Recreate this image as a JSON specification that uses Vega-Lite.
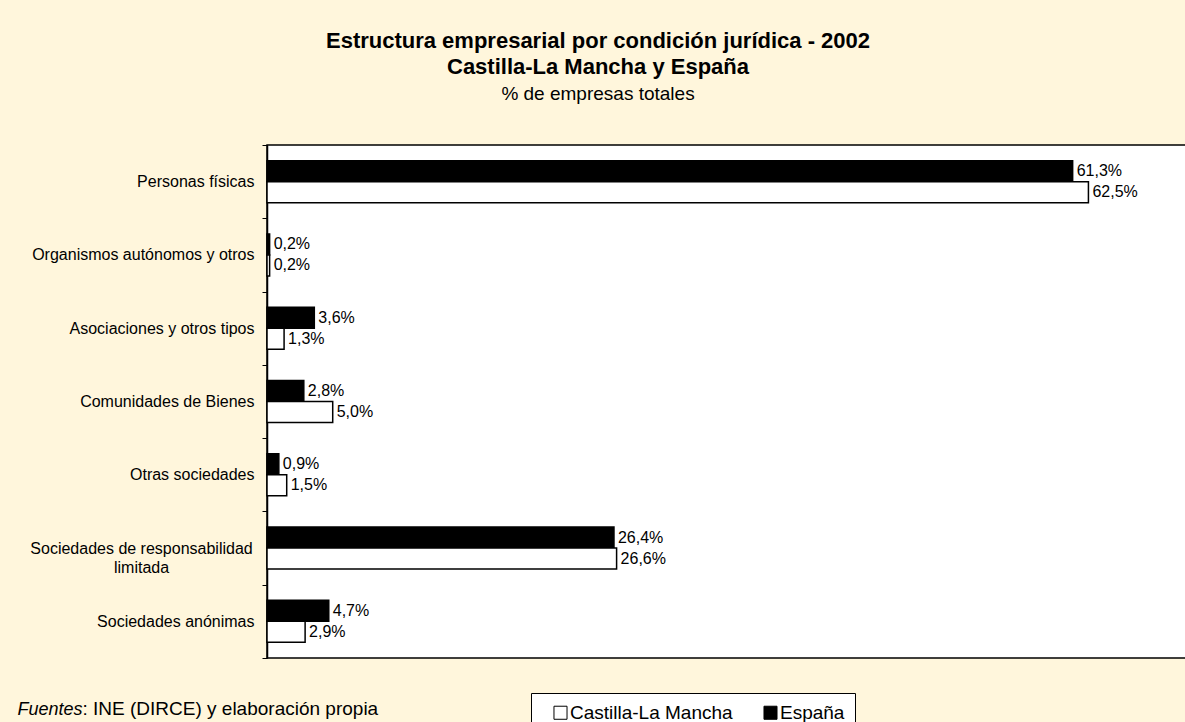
{
  "$schema": "https://vega.github.io/schema/vega-lite/v6.json",
  "width": 920,
  "height": 513,
  "autosize": {"type": "none"},
  "padding": {"left": 267, "top": 145, "right": 0, "bottom": 64},
  "background": "#FFF6DC",
  "title": {
    "text": ["Estructura empresarial por condición jurídica - 2002", "Castilla-La Mancha y España"],
    "subtitle": "% de empresas totales",
    "anchor": "middle",
    "frame": "group",
    "dx": -129,
    "offset": 32,
    "font": "Liberation Sans",
    "fontSize": 22,
    "fontWeight": "bold",
    "color": "black",
    "lineHeight": 26,
    "subtitleFont": "Liberation Sans",
    "subtitleFontSize": 19,
    "subtitleColor": "black",
    "subtitlePadding": 6
  },
  "data": {
    "values": [
      {"categoria": "Personas físicas", "serie": "España", "valor": 0.613},
      {"categoria": "Personas físicas", "serie": "Castilla-La Mancha", "valor": 0.625},
      {"categoria": "Organismos autónomos y otros", "serie": "España", "valor": 0.002},
      {"categoria": "Organismos autónomos y otros", "serie": "Castilla-La Mancha", "valor": 0.002},
      {"categoria": "Asociaciones y otros tipos", "serie": "España", "valor": 0.036},
      {"categoria": "Asociaciones y otros tipos", "serie": "Castilla-La Mancha", "valor": 0.013},
      {"categoria": "Comunidades de Bienes", "serie": "España", "valor": 0.028},
      {"categoria": "Comunidades de Bienes", "serie": "Castilla-La Mancha", "valor": 0.05},
      {"categoria": "Otras sociedades", "serie": "España", "valor": 0.009},
      {"categoria": "Otras sociedades", "serie": "Castilla-La Mancha", "valor": 0.015},
      {"categoria": "Sociedades de responsabilidad limitada", "serie": "España", "valor": 0.264},
      {"categoria": "Sociedades de responsabilidad limitada", "serie": "Castilla-La Mancha", "valor": 0.266},
      {"categoria": "Sociedades anónimas", "serie": "España", "valor": 0.047},
      {"categoria": "Sociedades anónimas", "serie": "Castilla-La Mancha", "valor": 0.029}
    ]
  },
  "encoding": {
    "y": {
      "field": "categoria",
      "type": "nominal",
      "sort": ["Personas físicas", "Organismos autónomos y otros", "Asociaciones y otros tipos", "Comunidades de Bienes", "Otras sociedades", "Sociedades de responsabilidad limitada", "Sociedades anónimas"],
      "scale": {"paddingInner": 0, "paddingOuter": 0},
      "axis": {
        "title": "Fuentes",
        "titleAngle": 0,
        "titleX": -250,
        "titleY": 569,
        "titleAlign": "left",
        "titleBaseline": "alphabetic",
        "titleFontStyle": "italic",
        "titleFontWeight": "normal",
        "titleFontSize": 18,
        "titleFont": "Liberation Sans",
        "titleColor": "black",
        "domain": true,
        "domainColor": "black",
        "domainWidth": 1.5,
        "ticks": true,
        "tickBand": "extent",
        "tickSize": 5,
        "tickColor": "black",
        "tickWidth": 1,
        "labelFont": "Liberation Sans",
        "labelFontSize": 16,
        "labelColor": "black",
        "labelLimit": 300,
        "labelLineHeight": 19,
        "labelExpr": "datum.value == 'Sociedades de responsabilidad limitada' ? ['Sociedades de responsabilidad', 'limitada'] : datum.value",
        "labelAlign": {"condition": {"test": "datum.value == 'Sociedades de responsabilidad limitada'", "value": "center"}, "value": "right"},
        "labelPadding": {"condition": {"test": "datum.value == 'Sociedades de responsabilidad limitada'", "value": 121}, "value": 8}
      }
    },
    "yOffset": {
      "field": "serie",
      "type": "nominal",
      "sort": ["España", "Castilla-La Mancha"],
      "scale": {"paddingInner": 0, "paddingOuter": 0.745}
    },
    "x": {
      "field": "valor",
      "type": "quantitative",
      "scale": {"domain": [0, 0.7], "nice": false},
      "axis": {
        "title": ": INE (DIRCE) y elaboración propia",
        "titleX": -185,
        "titleY": 56,
        "titleAlign": "left",
        "titleBaseline": "alphabetic",
        "titleFontWeight": "normal",
        "titleFontSize": 19,
        "titleFont": "Liberation Sans",
        "titleColor": "black",
        "domain": false,
        "ticks": false,
        "labels": false,
        "grid": false
      }
    }
  },
  "layer": [
    {
      "mark": {"type": "bar", "stroke": "black", "strokeWidth": 1.5},
      "encoding": {
        "fill": {
          "field": "serie",
          "type": "nominal",
          "scale": {"domain": ["Castilla-La Mancha", "España"], "range": ["white", "black"]},
          "legend": {
            "orient": "none",
            "legendX": 264,
            "legendY": 548,
            "direction": "horizontal",
            "title": null,
            "symbolType": "square",
            "symbolSize": 170,
            "symbolStrokeColor": "black",
            "symbolStrokeWidth": 1,
            "labelFont": "Liberation Sans",
            "labelFontSize": 19,
            "labelColor": "black",
            "labelLimit": 300,
            "strokeColor": "black",
            "fillColor": "white",
            "padding": 10,
            "columnPadding": 18,
            "labelOffset": 0,
            "symbolOffset": 10
          }
        }
      }
    },
    {
      "mark": {"type": "text", "align": "left", "baseline": "middle", "dx": 4, "fontSize": 16, "font": "Liberation Sans", "color": "black"},
      "encoding": {
        "text": {"field": "valor", "type": "quantitative", "format": ".1%"}
      }
    }
  ],
  "config": {
    "view": {"stroke": "black", "strokeWidth": 1.5, "fill": "white"},
    "font": "Liberation Sans",
    "axis": {"grid": false},
    "locale": {"number": {"decimal": ",", "thousands": ".", "grouping": [3], "currency": ["", " €"]}}
  }
}
